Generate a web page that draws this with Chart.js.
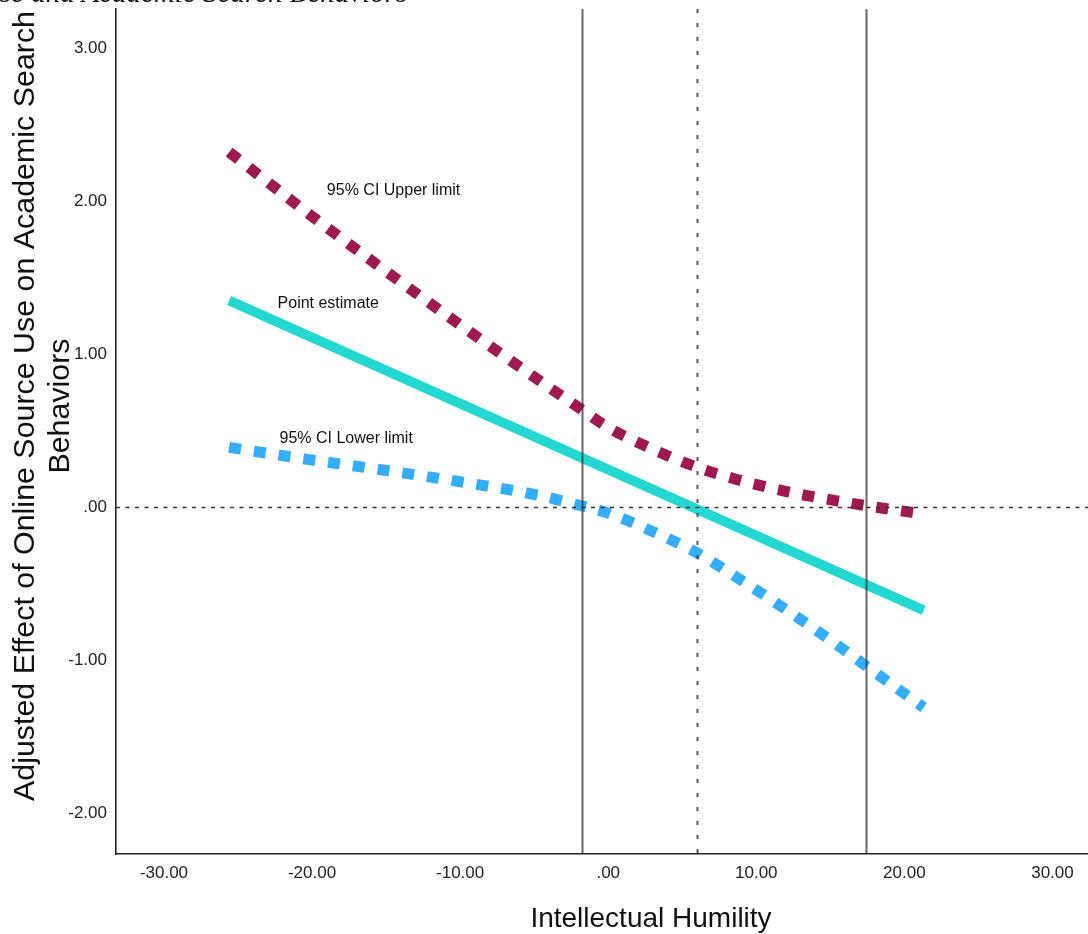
<!DOCTYPE html>
<html>
<head>
<meta charset="utf-8">
<script src="https://cdn.jsdelivr.net/npm/chart.js@4.4.0/dist/chart.umd.min.js"></script>
<style>
    html, body { margin: 0; padding: 0; background: #fff; overflow: hidden; }
    #wrap { position: relative; width: 1088px; height: 934px; overflow: hidden; }
    canvas { position: absolute; left: 0; top: 0; }
    #cap {
        position: absolute; top: -22px; left: 0; white-space: nowrap;
        font: italic 29px "Liberation Serif", "Times New Roman", serif;
        line-height: 29px; color: #111;
    }
</style>
</head>
<body>
<div id="wrap">
    <canvas id="jn" width="1088" height="934"></canvas>
    <div id="cap"><span id="capPre">Online Source U</span>se and Academic Search Behaviors</div>
</div>
<script>
// axis ranges and ticks
const xRange = [-33.24, 32.4];
const yRange = [-2.268, 3.255];
const xTickVals = [-30, -20, -10, 0, 10, 20, 30];
const yTickVals = [-2, -1, 0, 1, 2, 3];

// point estimate of the conditional effect
const pointX = [-25.6, 21.3];
const pointY = [1.35, -0.675];

// 95% CI upper limit
const upperX = [-25.6, -20, -15, -10, -5, -2, 0, 2.5, 5.7, 8.8, 12.2, 15.5, 18.9, 21.3];
const upperY = [2.32, 1.90, 1.54, 1.19, 0.85, 0.65, 0.52, 0.40, 0.27, 0.177, 0.098, 0.039, -0.013, -0.045];

// 95% CI lower limit
const lowerX = [-25.6, -20.2, -15.1, -10, -4.9, -1.9, 0, 3, 6, 9, 12, 15, 18, 21.3];
const lowerY = [0.39, 0.31, 0.24, 0.165, 0.08, 0.01, -0.04, -0.16, -0.30, -0.48, -0.67, -0.87, -1.08, -1.31];

// Johnson-Neyman region bounds and the centre (dotted) line
const jnBounds = [-1.74, 17.43];
const centreX = [5.99];

const xTitle = 'Intellectual Humility';
const yTitle = ['Adjusted Effect of Online Source Use on Academic Search', 'Behaviors'];
const lineLabels = [
    { text: '95% CI Upper limit', x: -19.0, y: 2.04 },
    { text: 'Point estimate', x: -22.33, y: 1.30 },
    { text: '95% CI Lower limit', x: -22.2, y: 0.42 },
];

const FONT = '"Liberation Sans", Arial, sans-serif';

// shift the cut-off caption so the visible part starts at the page edge
const pre = document.getElementById('capPre');
document.getElementById('cap').style.left = (-pre.offsetWidth) + 'px';

function fmt(v) {
    return v === 0 ? '.00' : v.toFixed(2);
}

function toPts(xs, ys) {
    return xs.map((x, i) => ({ x, y: ys[i] }));
}

const refLines = {
    id: 'refLines',
    afterDatasetsDraw(chart) {
        const { ctx, chartArea: a, scales: { x, y } } = chart;
        ctx.save();
        ctx.lineWidth = 2;
        ctx.strokeStyle = 'rgba(40,40,40,0.7)';
        jnBounds.forEach(v => {
            const px = Math.round(x.getPixelForValue(v)) + 0.5;
            ctx.beginPath(); ctx.moveTo(px, a.top); ctx.lineTo(px, a.bottom); ctx.stroke();
        });
        ctx.setLineDash([4, 10]);
        ctx.strokeStyle = 'rgba(60,60,60,0.85)';
        centreX.forEach(v => {
            const px = Math.round(x.getPixelForValue(v)) + 0.5;
            ctx.beginPath(); ctx.moveTo(px, a.top); ctx.lineTo(px, a.bottom); ctx.stroke();
        });
        ctx.setLineDash([4, 5.5]);
        ctx.lineWidth = 1.6;
        ctx.strokeStyle = '#333';
        const py = Math.round(y.getPixelForValue(0)) + 0.5;
        ctx.beginPath(); ctx.moveTo(a.left, py); ctx.lineTo(a.right, py); ctx.stroke();
        ctx.restore();
    },
    afterDraw(chart) {
        const { ctx, scales: { x, y } } = chart;
        ctx.save();
        ctx.fillStyle = '#111';
        ctx.textBaseline = 'alphabetic';
        ctx.font = '16px ' + FONT;
        lineLabels.forEach(l => ctx.fillText(l.text, x.getPixelForValue(l.x), y.getPixelForValue(l.y)));

        ctx.textAlign = 'center';
        ctx.font = '28px ' + FONT;
        ctx.fillText(xTitle, 651, 927);

        ctx.font = '30.4px ' + FONT;
        ctx.translate(0, 406);
        ctx.rotate(-Math.PI / 2);
        ctx.fillText(yTitle[0], 0, 34);
        ctx.fillText(yTitle[1], 0, 69);
        ctx.restore();
    },
};

Chart.defaults.font.family = FONT;
Chart.defaults.color = '#222';

new Chart(document.getElementById('jn'), {
    type: 'line',
    data: {
        datasets: [
            {
                label: 'Point estimate',
                data: toPts(pointX, pointY),
                borderColor: '#24d8d2',
                borderWidth: 10,
                borderCapStyle: 'butt',
                pointRadius: 0,
            },
            {
                label: '95% CI Upper limit',
                data: toPts(upperX, upperY),
                borderColor: '#a01850',
                borderWidth: 11,
                borderDash: [12, 13],
                borderCapStyle: 'butt',
                cubicInterpolationMode: 'monotone',
                pointRadius: 0,
            },
            {
                label: '95% CI Lower limit',
                data: toPts(lowerX, lowerY),
                borderColor: '#33adff',
                borderWidth: 11,
                borderDash: [12, 13],
                borderCapStyle: 'butt',
                cubicInterpolationMode: 'monotone',
                pointRadius: 0,
            },
        ],
    },
    options: {
        responsive: false,
        animation: false,
        devicePixelRatio: 1,
        layout: { autoPadding: false, padding: { top: 9, left: 0, right: 0, bottom: 0 } },
        plugins: { legend: { display: false }, tooltip: { enabled: false } },
        scales: {
            x: {
                type: 'linear',
                min: xRange[0],
                max: xRange[1],
                grid: { display: false, drawTicks: false },
                border: { display: true, color: '#222', width: 1.6 },
                ticks: { font: { size: 17 }, padding: 9, color: '#222', callback: v => fmt(v) },
                afterBuildTicks: s => { s.ticks = xTickVals.map(v => ({ value: v })); },
                afterFit: s => { s.height = 80; s.paddingLeft = 0; s.paddingRight = 0; },
            },
            y: {
                type: 'linear',
                min: yRange[0],
                max: yRange[1],
                grid: { display: false, drawTicks: false },
                border: { display: true, color: '#222', width: 1.6 },
                ticks: { font: { size: 17 }, padding: 9, color: '#222', callback: v => fmt(v) },
                afterBuildTicks: s => { s.ticks = yTickVals.map(v => ({ value: v })); },
                afterFit: s => { s.width = 116; s.paddingTop = 0; s.paddingBottom = 0; },
            },
        },
    },
    plugins: [refLines],
});
</script>
</body>
</html>
